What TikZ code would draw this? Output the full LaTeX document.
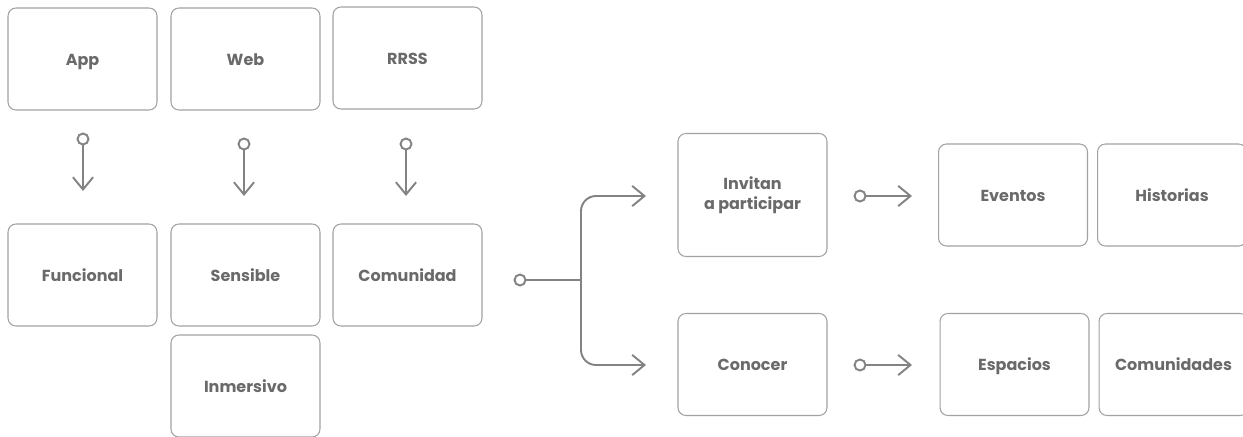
\documentclass[tikz,border=0pt]{standalone}
\usepackage{fontspec}
\setmainfont{Poppins}
\usetikzlibrary{arrows.meta}
\definecolor{boxline}{HTML}{A2A2A2}
\definecolor{ink}{HTML}{6A6A6A}
\definecolor{wire}{HTML}{838383}
\tikzset{
  box/.style={draw=boxline,line width=.6pt,rounded corners=4.5pt,minimum width=2.98cm,minimum height=2.04cm,
    text=ink,font=\fontsize{9.1}{11.5}\selectfont\bfseries,align=center,inner sep=0pt,
    text height=1.6ex,text depth=.3ex},
  tallbox/.style={box,minimum height=2.46cm,text height=,text depth=},
  dot/.style={circle,draw=wire,fill=white,line width=1.1pt,minimum size=.22cm,inner sep=0pt},
  flow/.style={draw=wire,line width=1.1pt,-{Straight Barb[length=7pt,width=11.5pt,line width=1.1pt]}}
}
\begin{document}
\begin{tikzpicture}[x=.02cm,y=-.02cm]
\useasboundingbox (0,0) rectangle (1243,436);
\foreach \name/\x/\y/\txt in {app/82.5/59/App,web/245.5/59/Web,rrss/407.5/58/RRSS,
  funcional/82.5/275/Funcional,sensible/245.5/275/Sensible,comunidad/407.5/275/Comunidad,
  inmersivo/245.5/386/Inmersivo,conocer/752.5/364.5/Conocer,
  eventos/1013/195/Eventos,historias/1172/195/Historias,
  espacios/1014.5/364.5/Espacios,comunidades/1173.5/364.5/Comunidades}
  \node[box] (\name) at (\x,\y) {\txt};
\node[tallbox] (invitan) at (752.5,195) {Invitan\\a participar};
\foreach \name/\x/\ya/\yb in {appout/83/139/191,webout/244/144/196,rrssout/406/144/196}{
  \node[dot] (\name) at (\x,\ya) {};
  \coordinate (\name end) at (\x,\yb);
  \draw[flow] (\name) -- (\name end);
}
\foreach \name/\y in {invout/196,conout/365}{
  \node[dot] (\name) at (860,\y) {};
  \coordinate (\name end) at (912,\y);
  \draw[flow] (\name) -- (\name end);
}
\node[dot] (src) at (520,280) {};
\coordinate (fork) at (581,280);
\coordinate (topend) at (646,196);
\coordinate (botend) at (646,365);
\draw[draw=wire,line width=1.1pt] (src) -- (fork);
\draw[flow,rounded corners=.3cm] (fork) |- (topend);
\draw[flow,rounded corners=.3cm] (fork) |- (botend);
\end{tikzpicture}
\end{document}
